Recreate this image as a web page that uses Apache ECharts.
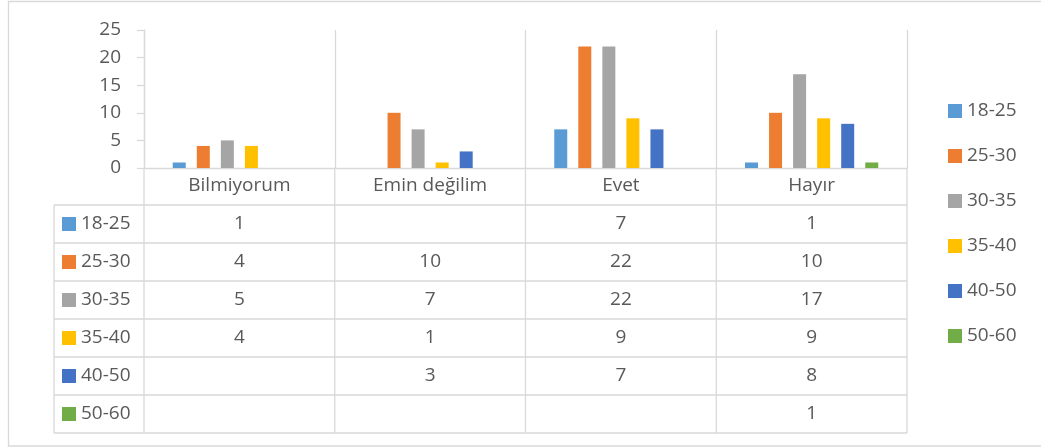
<!DOCTYPE html>
<html>
<head>
<meta charset="utf-8">
<script src="https://cdn.jsdelivr.net/npm/echarts@6/dist/echarts.min.js"></script>
<style>
html,body{margin:0;padding:0;background:#fff;}
#chart{width:1041px;height:448px;}
</style>
</head>
<body>
<div id="chart"></div>
<script>
const categories = ['Bilmiyorum', 'Emin değilim', 'Evet', 'Hayır'];
const seriesNames = ['18-25', '25-30', '30-35', '35-40', '40-50', '50-60'];
const s1825 = [1, null, 7, 1];
const s2530 = [4, 10, 22, 10];
const s3035 = [5, 7, 22, 17];
const s3540 = [4, 1, 9, 9];
const s4050 = [null, 3, 7, 8];
const s5060 = [null, null, null, 1];
const yTicks = [0, 5, 10, 15, 20, 25];
const colors = ['#5B9BD5', '#ED7D31', '#A5A5A5', '#FFC000', '#4472C4', '#70AD47'];
const seriesData = [s1825, s2530, s3035, s3540, s4050, s5060];

const FONT = '"Open Sans", Lato, sans-serif';
const FS = 19;
const TXT = '#595959';
const LINE = '#D9D9D9';

// layout
const plotLeft = 144, plotRight = 907, plotTop = 30, plotBottom = 168;
const tableLeft = 54, tableTop = 205, rowH = 38;

const chart = echarts.init(document.getElementById('chart'), null, {renderer: 'canvas'});

const option = {
  animation: false,
  color: colors,
  textStyle: {fontFamily: FONT},
  grid: {left: plotLeft, right: 1041 - plotRight, top: plotTop, bottom: 448 - plotBottom, containLabel: false},
  legend: {
    orient: 'vertical',
    left: 948,
    top: 101,
    padding: 0,
    itemWidth: 14,
    itemHeight: 14,
    itemGap: 25,
    icon: 'rect',
    textStyle: {color: TXT, fontSize: FS, fontFamily: FONT, lineHeight: 20},
    data: seriesNames
  },
  xAxis: {
    type: 'category',
    data: categories,
    axisLine: {show: true, lineStyle: {color: LINE, width: 1.3}},
    axisTick: {show: false},
    splitLine: {show: true, interval: 0, lineStyle: {color: LINE, width: 1.3}},
    axisLabel: {color: TXT, fontSize: FS, fontFamily: FONT, margin: 8, lineHeight: 20, interval: 0}
  },
  yAxis: {
    type: 'value',
    min: 0, max: 25, interval: 5,
    axisLine: {show: true, lineStyle: {color: LINE, width: 1.3}},
    axisTick: {show: true, length: 7, lineStyle: {color: LINE, width: 1.3}},
    splitLine: {show: false},
    axisLabel: {color: TXT, fontSize: FS, fontFamily: FONT, margin: 23,
      formatter: v => yTicks.indexOf(v) >= 0 ? String(v) : ''}
  },
  series: seriesNames.map((n, i) => ({
    name: n,
    type: 'bar',
    data: seriesData[i],
    barWidth: 13,
    barGap: '85%',
    itemStyle: {color: colors[i]}
  }))
};
chart.setOption(option);

// Data table drawn from the arrays
const g = [];
const tableBottom = tableTop + rowH * seriesNames.length;
// outer chart border
g.push({type: 'rect', shape: {x: 8.5, y: 1.5, width: 1040, height: 444.5}, style: {fill: 'none', stroke: LINE, lineWidth: 1.3}, silent: true});
// horizontal table lines
for (let r = 0; r <= seriesNames.length; r++) {
  const y = tableTop + r * rowH;
  g.push({type: 'line', shape: {x1: tableLeft, y1: y, x2: plotRight, y2: y}, style: {stroke: LINE, lineWidth: 1.3}, silent: true});
}
// vertical lines
const bounds = [plotLeft];
const catW = (plotRight - plotLeft) / categories.length;
for (let c = 1; c <= categories.length; c++) bounds.push(plotLeft + c * catW);
g.push({type: 'line', shape: {x1: tableLeft, y1: tableTop, x2: tableLeft, y2: tableBottom}, style: {stroke: LINE, lineWidth: 1.3}, silent: true});
bounds.forEach(x => {
  g.push({type: 'line', shape: {x1: x, y1: plotBottom, x2: x, y2: tableBottom}, style: {stroke: LINE, lineWidth: 1.3}, silent: true});
});
// row headers and values
seriesNames.forEach((n, r) => {
  const cy = tableTop + r * rowH + rowH / 2;
  g.push({type: 'rect', shape: {x: 62, y: cy - 7, width: 14, height: 14}, style: {fill: colors[r]}, silent: true});
  g.push({type: 'text', x: 81, y: cy, style: {text: n, fill: TXT, font: FS + 'px ' + FONT, textAlign: 'left', textVerticalAlign: 'middle'}, silent: true});
  categories.forEach((c, ci) => {
    const v = seriesData[r][ci];
    if (v === null || v === undefined) return;
    const px = chart.convertToPixel({xAxisIndex: 0}, c);
    g.push({type: 'text', x: px, y: cy, style: {text: String(v), fill: TXT, font: FS + 'px ' + FONT, textAlign: 'center', textVerticalAlign: 'middle'}, silent: true});
  });
});
chart.setOption({graphic: g});
</script>
</body>
</html>
